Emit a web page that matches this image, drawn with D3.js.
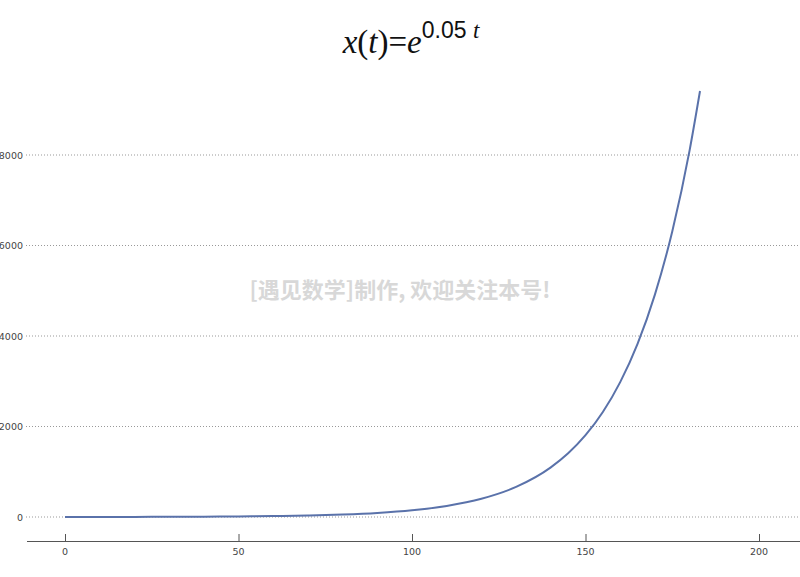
<!DOCTYPE html>
<html>
<head>
<meta charset="utf-8">
<script src="https://cdn.jsdelivr.net/npm/d3@7"></script>
<style>
  body { margin: 0; background: #fff; }
  svg { display: block; }
</style>
</head>
<body>
<script>
// values
var tValues = [0, 10, 20, 30, 40, 50, 60, 70, 80, 90, 100, 110, 120, 130, 140, 145, 150, 155, 160, 165, 170, 175, 180, 183];
var xValues = [1, 1.6, 2.7, 4.5, 7.4, 12, 20, 33, 55, 90, 148, 245, 403, 665, 1097, 1408, 1808, 2321, 2981, 3827, 4915, 6311, 8103, 9414];
var xTicks = [0, 50, 100, 150, 200];
var yTicks = [0, 2000, 4000, 6000, 8000];

onload = function () {
  var width = 800,
      height = 577;

  var svg = d3.select("body").append("svg")
              .attr("width", width)
              .attr("height", height);

  var xScale = d3.scaleLinear().domain([0, 200]).range([65, 759]);
  var yScale = d3.scaleLinear().domain([0, 8000]).range([517, 155]);

  // horizontal dotted grid + y labels
  svg.selectAll("line.grid")
    .data(yTicks)
    .enter().append("line")
    .attr("class", "grid")
    .attr("x1", 26).attr("x2", 800)
    .attr("y1", function (d) { return yScale(d); })
    .attr("y2", function (d) { return yScale(d); })
    .attr("stroke", "#999")
    .attr("stroke-width", 1)
    .attr("stroke-dasharray", "1,2");

  svg.selectAll("text.ylab")
    .data(yTicks)
    .enter().append("text")
    .attr("class", "ylab")
    .text(function (d) { return d; })
    .attr("x", 23)
    .attr("y", function (d) { return yScale(d) + 3.5; })
    .attr("text-anchor", "end")
    .attr("font-family", "DejaVu Sans, sans-serif")
    .attr("font-size", 9.5)
    .attr("fill", "#444");

  // x axis
  var xAxis = d3.axisTop(xScale).tickValues(xTicks).tickSize(7).tickFormat("");
  var gx = svg.append("g").attr("transform", "translate(0,541)").call(xAxis);
  gx.select(".domain").remove();
  gx.selectAll(".tick line").attr("stroke", "#555");
  svg.append("line")
    .attr("x1", 27).attr("x2", 800)
    .attr("y1", 541.5).attr("y2", 541.5)
    .attr("stroke", "#555").attr("stroke-width", 1);

  svg.selectAll("text.xlab")
    .data(xTicks)
    .enter().append("text")
    .attr("class", "xlab")
    .text(function (d) { return d; })
    .attr("x", function (d) { return xScale(d); })
    .attr("y", 555)
    .attr("text-anchor", "middle")
    .attr("font-family", "DejaVu Sans, sans-serif")
    .attr("font-size", 9.5)
    .attr("fill", "#444");

  // curve
  var pts = tValues.map(function (t, i) { return [t, xValues[i]]; });
  var line = d3.line()
    .x(function (d) { return xScale(d[0]); })
    .y(function (d) { return yScale(d[1]); })
    .curve(d3.curveMonotoneX);

  svg.append("path")
    .datum(pts)
    .attr("d", line)
    .attr("fill", "none")
    .attr("stroke", "#5a72aa")
    .attr("stroke-width", 2);

  // watermark
  svg.append("text")
    .text("[遇见数学]制作, 欢迎关注本号!")
    .attr("x", 400)
    .attr("y", 298)
    .attr("text-anchor", "middle")
    .attr("font-family", "Noto Sans CJK SC, sans-serif")
    .attr("font-weight", "bold")
    .attr("font-size", 22)
    .attr("fill", "#d8d8d8");

  // title
  var title = svg.append("text")
    .attr("x", 411)
    .attr("y", 53)
    .attr("text-anchor", "middle")
    .attr("font-family", "Liberation Serif, serif")
    .attr("font-size", 33)
    .attr("fill", "#111");
  title.append("tspan").attr("font-style", "italic").text("x");
  title.append("tspan").text("(");
  title.append("tspan").attr("font-style", "italic").text("t");
  title.append("tspan").text(")=");
  title.append("tspan").attr("font-style", "italic").text("e");
  title.append("tspan").attr("dy", -15).attr("font-family", "Liberation Sans, sans-serif").attr("font-size", 23).text("0.05 ");
  title.append("tspan").attr("font-style", "italic").attr("font-size", 23).text(" t");
};
</script>
</body>
</html>
